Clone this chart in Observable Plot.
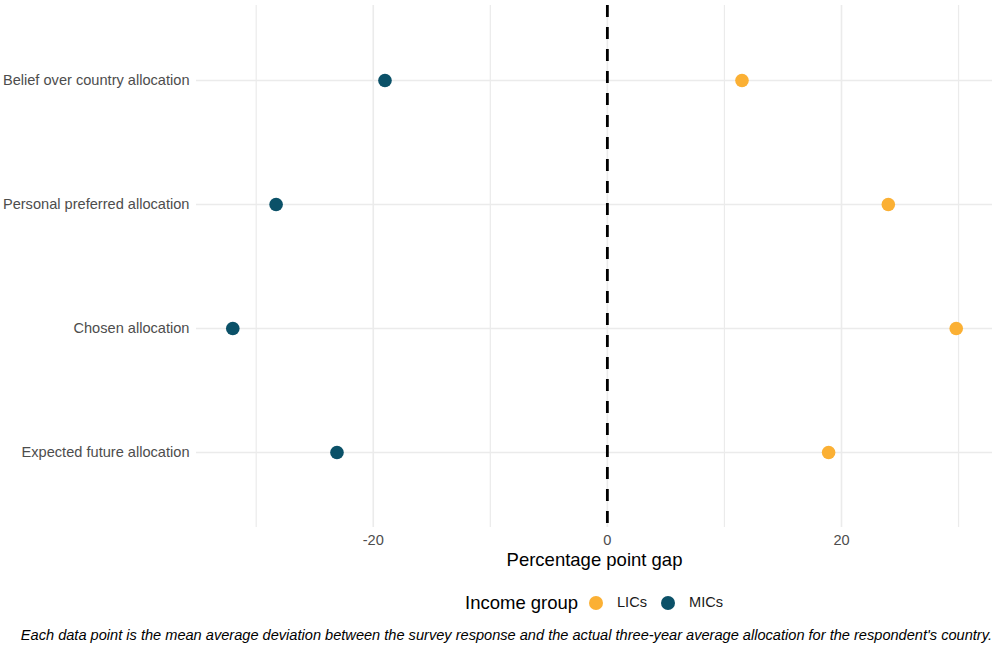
<!DOCTYPE html>
<html>
<head>
<meta charset="utf-8">
<script src="https://cdn.jsdelivr.net/npm/d3@7"></script>
<script src="https://cdn.jsdelivr.net/npm/@observablehq/plot@0.6"></script>
<style>
  html, body { margin: 0; padding: 0; background: #fff; }
  body { width: 1000px; height: 651px; overflow: hidden; font-family: "Liberation Sans", Arial, sans-serif; }
  #legend { position: absolute; top: 590px; left: 0; width: 1000px; height: 26px; }
  #legend .title { position: absolute; left: 465px; top: 2px; font-size: 18.5px; line-height: 22px; color: #000; }
  #legend .dot { position: absolute; width: 14px; height: 14px; border-radius: 50%; top: 6px; }
  #legend .lab { position: absolute; top: 4px; font-size: 14.6px; line-height: 17px; color: #1a1a1a; }
  #caption { position: absolute; top: 626px; right: 8px; font-size: 14.6px; line-height: 18px; font-style: italic; color: #000; white-space: nowrap; }
</style>
</head>
<body>
<div id="chart"></div>
<div id="legend"></div>
<div id="caption"></div>
<script>
const categories = ["Belief over country allocation", "Personal preferred allocation", "Chosen allocation", "Expected future allocation"];
const groups = ["LICs", "MICs"];
const licValues = [11.5, 24.0, 29.8, 18.9];
const micValues = [-19.0, -28.3, -32.0, -23.1];
const colors = ["#fbb034", "#0b5168"];
const majorTicks = [-20, 0, 20];
const minorTicks = [-30, -10, 10, 30];
const xLabel = "Percentage point gap";
const legendTitle = "Income group";
const captionText = "Each data point is the mean average deviation between the survey response and the actual three-year average allocation for the respondent's country.";

const data = [];
categories.forEach((c, i) => {
  data.push({category: c, group: "LICs", value: licValues[i]});
  data.push({category: c, group: "MICs", value: micValues[i]});
});

const chart = Plot.plot({
  width: 1000,
  height: 572,
  marginLeft: 196,
  marginRight: 8,
  marginTop: 5,
  marginBottom: 45,
  style: {fontFamily: "Liberation Sans, Arial, sans-serif", fontSize: "14.6px"},
  x: {domain: [-35.1, 32.9]},
  y: {type: "point", domain: categories, padding: 0.6},
  color: {domain: groups, range: colors},
  marks: [
    Plot.ruleX(minorTicks, {stroke: "#ebebeb", strokeWidth: 1.2}),
    Plot.ruleX(majorTicks, {stroke: "#ebebeb", strokeWidth: 1.6}),
    Plot.ruleY(categories, {y: d => d, stroke: "#ebebeb", strokeWidth: 1.6}),
    Plot.ruleX([0], {stroke: "#000", strokeWidth: 2.8, strokeDasharray: "12,10"}),
    Plot.dot(data, {x: "value", y: "category", fill: "group", r: 6.8}),
    Plot.axisY({tickSize: 0, tickPadding: 7, label: null, fill: "#4d4d4d", fontSize: 14.6}),
    Plot.axisX({ticks: majorTicks, tickSize: 0, tickPadding: 7, fill: "#4d4d4d", fontSize: 14.6, label: null, tickFormat: d => String(d)}),
    Plot.text([xLabel], {frameAnchor: "bottom", dy: 38, fontSize: 18.5, fill: "#000"})
  ]
});
document.getElementById("chart").appendChild(chart);

const legend = document.getElementById("legend");
legend.innerHTML = `<span class="title">${legendTitle}</span>` +
  `<span class="dot" style="left:589px;background:${colors[0]}"></span>` +
  `<span class="lab" style="left:617px">${groups[0]}</span>` +
  `<span class="dot" style="left:661px;background:${colors[1]}"></span>` +
  `<span class="lab" style="left:689px">${groups[1]}</span>`;
document.getElementById("caption").textContent = captionText;
</script>
</body>
</html>
